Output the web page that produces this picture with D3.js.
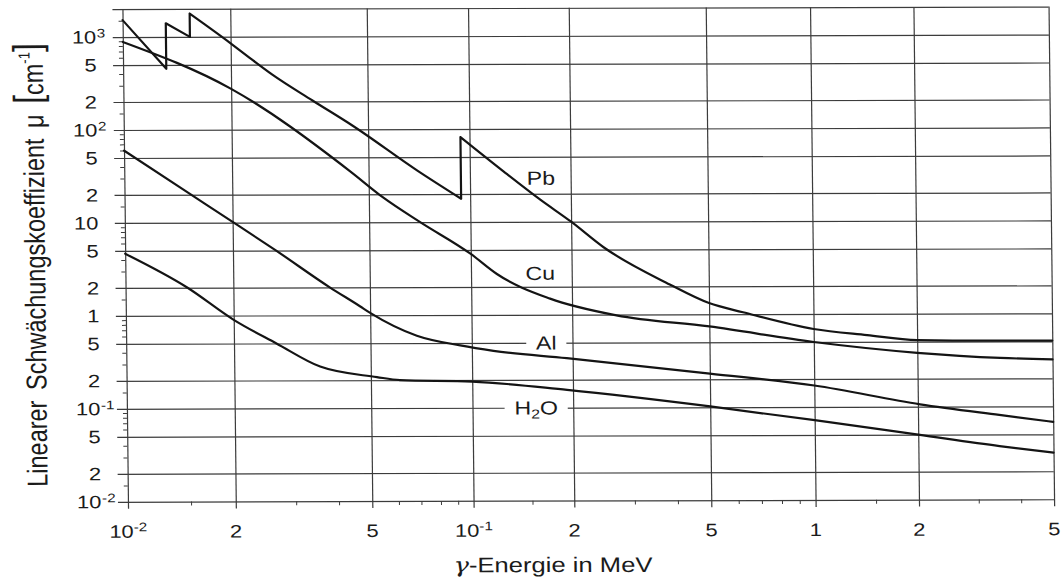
<!DOCTYPE html>
<html>
<head>
<meta charset="utf-8">
<script src="https://cdn.jsdelivr.net/npm/d3@7"></script>
<style>
  html, body { margin: 0; padding: 0; background: #fff; }
  svg { display: block; }
  text { font-family: "Liberation Sans", Arial, Helvetica, sans-serif; fill: #1b1b1b; }
</style>
</head>
<body>
<svg id="chart" width="1064" height="584"></svg>
<script>
// Photon energy (MeV) and linear attenuation coefficient μ (cm^-1).
// A repeated energy marks an absorption edge (value below, then above).
const pbEnergy = [0.01, 0.0132, 0.0132, 0.0154, 0.0154, 0.02, 0.0226, 0.0264, 0.0345, 0.045, 0.07, 0.094, 0.094, 0.126, 0.162, 0.2, 0.248, 0.385, 0.5, 0.626, 1.0, 1.43, 2.0, 3.5, 5.0];
const pbMu     = [1520, 454, 1400, 1000, 1780, 850, 600, 390, 205, 110, 35.6, 17.8, 82, 35, 17.3, 10, 5.3, 2.1, 1.32, 1.05, 0.69, 0.59, 0.52, 0.51, 0.51];

const cuEnergy = [0.01, 0.02, 0.0441, 0.0551, 0.0709, 0.1, 0.1195, 0.172, 0.269, 0.5, 1.0, 2.0, 3.51, 5.0];
const cuMu     = [885, 275, 35.6, 18.5, 10, 4.53, 2.75, 1.49, 0.98, 0.74, 0.5, 0.38, 0.333, 0.32];

const alEnergy = [0.01, 0.0149, 0.02, 0.0268, 0.0382, 0.0467, 0.05, 0.0687, 0.0924, 0.116, 0.192, 0.5, 1.0, 2.03, 3.47, 5.0];
const alMu     = [60, 21.6, 10.2, 4.95, 2.0, 1.25, 1.06, 0.6, 0.47, 0.41, 0.34, 0.23, 0.17, 0.106, 0.081, 0.068];

const h2oEnergy = [0.01, 0.0149, 0.02, 0.0266, 0.0356, 0.0521, 0.061, 0.1, 0.192, 0.5, 1.0, 2.0, 3.47, 5.0];
const h2oMu     = [4.66, 2, 0.9, 0.5, 0.281, 0.216, 0.2, 0.192, 0.155, 0.102, 0.072, 0.05, 0.0375, 0.0317];

// Curve names and where each name sits (energy, μ)
const seriesNames = ["Pb", "Cu", "Al", "H2O"];
const nameEnergy  = [0.163, 0.161, 0.167, 0.155];
const nameMu      = [29.6, 2.81, 0.5, 0.1];

// Axis ticks
const xTickValues = [0.01, 0.02, 0.05, 0.1, 0.2, 0.5, 1, 2, 5];
const xTickBase   = ["10", "2", "5", "10", "2", "5", "1", "2", "5"];
const xTickExp    = ["-2", "", "", "-1", "", "", "", "", ""];

const yTickValues = [1000, 500, 200, 100, 50, 20, 10, 5, 2, 1, 0.5, 0.2, 0.1, 0.05, 0.02, 0.01];
const yTickBase   = ["10", "5", "2", "10", "5", "2", "10", "5", "2", "1", "5", "2", "10", "5", "2", "10"];
const yTickExp    = ["3", "", "", "2", "", "", "", "", "", "", "", "", "-1", "", "", "-2"];

const minorMultipliers = [1.5, 3, 4, 6, 7, 8, 9];

// ---------------------------------------------------------------
// layout: printed grid spacing along the energy axis
const xGridPx = [125.2, 233, 369.5, 470.8, 571.5, 708.5, 812.8, 916.2, 1051.3];
const yTopPx = 7.8, yBottomPx = 500.5;
const S = 1.22;            // horizontal stretch of all lettering
const gridColor = "#3c3c3c";
const inkColor = "#141414";

const x = d3.scaleLog().domain(xTickValues).range(xGridPx);
const y = d3.scaleLog().domain([0.01, 2000]).range([yBottomPx, yTopPx]);
const plot = { left: x(0.01), right: x(5), top: y(2000), bottom: y(0.01) };

const svg = d3.select("#chart");
svg.append("rect").attr("width", 1064).attr("height", 584).attr("fill", "#fff");

// the whole plate leans very slightly (sheared sheet)
const root = svg.append("g").attr("transform", "matrix(1,-0.0027,0.0112,1,-2.845,1.588)");

function minorValues(domain) {
  const out = [];
  for (let p = -3; p <= 4; p++) {
    minorMultipliers.forEach(m => {
      const v = m * Math.pow(10, p);
      if (v > domain[0] && v < domain[domain.length - 1]) out.push(v);
    });
  }
  return out;
}

function styleAxis(g, width) {
  g.select(".domain").remove();
  g.selectAll(".tick text").remove();
  g.selectAll(".tick line").attr("stroke", gridColor).attr("stroke-width", width);
}

// horizontal grid lines, running a little past the left frame
root.append("g")
  .attr("transform", `translate(${plot.right},0)`)
  .call(d3.axisLeft(y).tickValues([2000, ...yTickValues]).tickSize(plot.right - plot.left + 10).tickFormat(""))
  .call(g => styleAxis(g, 1.2));

// vertical grid lines, running a little below the bottom frame
root.append("g")
  .attr("transform", `translate(0,${plot.top})`)
  .call(d3.axisBottom(x).tickValues(xTickValues).tickSize(plot.bottom - plot.top + 7).tickFormat(""))
  .call(g => styleAxis(g, 1.2));

// minor ticks
root.append("g")
  .attr("transform", `translate(${plot.left},0)`)
  .call(d3.axisLeft(y).tickValues(minorValues(y.domain())).tickSize(4).tickFormat(""))
  .call(g => styleAxis(g, 1));

root.append("g")
  .attr("transform", `translate(0,${plot.bottom})`)
  .call(d3.axisBottom(x).tickValues(minorValues(x.domain())).tickSize(4).tickFormat(""))
  .call(g => styleAxis(g, 1));

// stretched lettering group
function letterGroup(parent, px, py, extra = "") {
  return parent.append("g").attr("transform", `translate(${px},${py}) scale(${S},1)${extra}`);
}

// y tick labels: base right-aligned, exponent hanging to the right
yTickValues.forEach((v, i) => {
  const g = letterGroup(root, plot.left - 26.5, y(v));
  g.append("text").attr("text-anchor", "end").attr("y", 6.4).attr("font-size", 18).text(yTickBase[i]);
  if (yTickExp[i]) {
    g.append("text").attr("x", 0.5).attr("y", 0.5).attr("font-size", 12.5).text(yTickExp[i]);
  }
});

// x tick labels
xTickValues.forEach((v, i) => {
  const g = letterGroup(root, x(v), 536.5);
  const t = g.append("text").attr("text-anchor", "middle").attr("font-size", 18);
  t.append("tspan").text(xTickBase[i]);
  if (xTickExp[i]) t.append("tspan").attr("font-size", 12.5).attr("dy", -6.5).text(xTickExp[i]);
});

// axis titles
{
  const g = letterGroup(root, 549.5, 572);
  const t = g.append("text").attr("text-anchor", "middle").attr("font-size", 21);
  t.append("tspan").attr("font-style", "italic").attr("font-family", "DejaVu Serif, serif").text("γ");
  t.append("tspan").text("-Energie in MeV");
}
{
  const g = letterGroup(root, 45, 263.5, " rotate(-90)");
  const t = g.append("text").attr("text-anchor", "middle").attr("font-size", 23.5).attr("word-spacing", 4);
  t.append("tspan").text("Linearer  Schwächungskoeffizient  μ ");
  t.append("tspan").attr("font-size", 32).attr("dy", -2).text("[");
  t.append("tspan").attr("dy", 2).text("cm");
  t.append("tspan").attr("font-size", 13).attr("dy", -11).text("-1");
  t.append("tspan").attr("font-size", 32).attr("dy", 9).text("]");
}

// curves
const series = [
  { energy: pbEnergy, mu: pbMu },
  { energy: cuEnergy, mu: cuMu },
  { energy: alEnergy, mu: alMu },
  { energy: h2oEnergy, mu: h2oMu }
];

const smooth = d3.line().x(d => x(d[0])).y(d => y(d[1])).curve(d3.curveMonotoneX);
const straight = d3.line().x(d => x(d[0])).y(d => y(d[1]));

const labelLayer = root.append("g");
const curveLayer = root.append("g");

series.forEach(s => {
  const pts = s.energy.map((e, i) => [e, s.mu[i]]);
  const segments = [[pts[0]]];
  const jumps = [];
  for (let i = 1; i < pts.length; i++) {
    if (pts[i][0] === pts[i - 1][0]) {
      jumps.push([pts[i - 1], pts[i]]);
      segments.push([pts[i]]);
    } else {
      segments[segments.length - 1].push(pts[i]);
    }
  }
  const d = segments.map(seg => smooth(seg)).join("") + jumps.map(j => straight(j)).join("");
  curveLayer.append("path")
    .attr("d", d)
    .attr("fill", "none")
    .attr("stroke", inkColor)
    .attr("stroke-width", 2.2)
    .attr("stroke-linejoin", "round")
    .attr("stroke-linecap", "round");
});

// curve names, with a white box where they sit on a grid line
seriesNames.forEach((name, i) => {
  const g = letterGroup(labelLayer, x(nameEnergy[i]), y(nameMu[i]));
  const t = g.append("text").attr("text-anchor", "middle").attr("y", 6.8).attr("font-size", 19);
  if (name === "H2O") {
    t.append("tspan").text("H");
    t.append("tspan").attr("font-size", 13).attr("dy", 4).text("2");
    t.append("tspan").attr("dy", -4).text("O");
  } else {
    t.text(name);
  }
  const b = t.node().getBBox();
  g.insert("rect", "text")
    .attr("x", b.x - 8).attr("y", -6).attr("width", b.width + 16).attr("height", 12)
    .attr("fill", "#fff");
});
</script>
</body>
</html>
